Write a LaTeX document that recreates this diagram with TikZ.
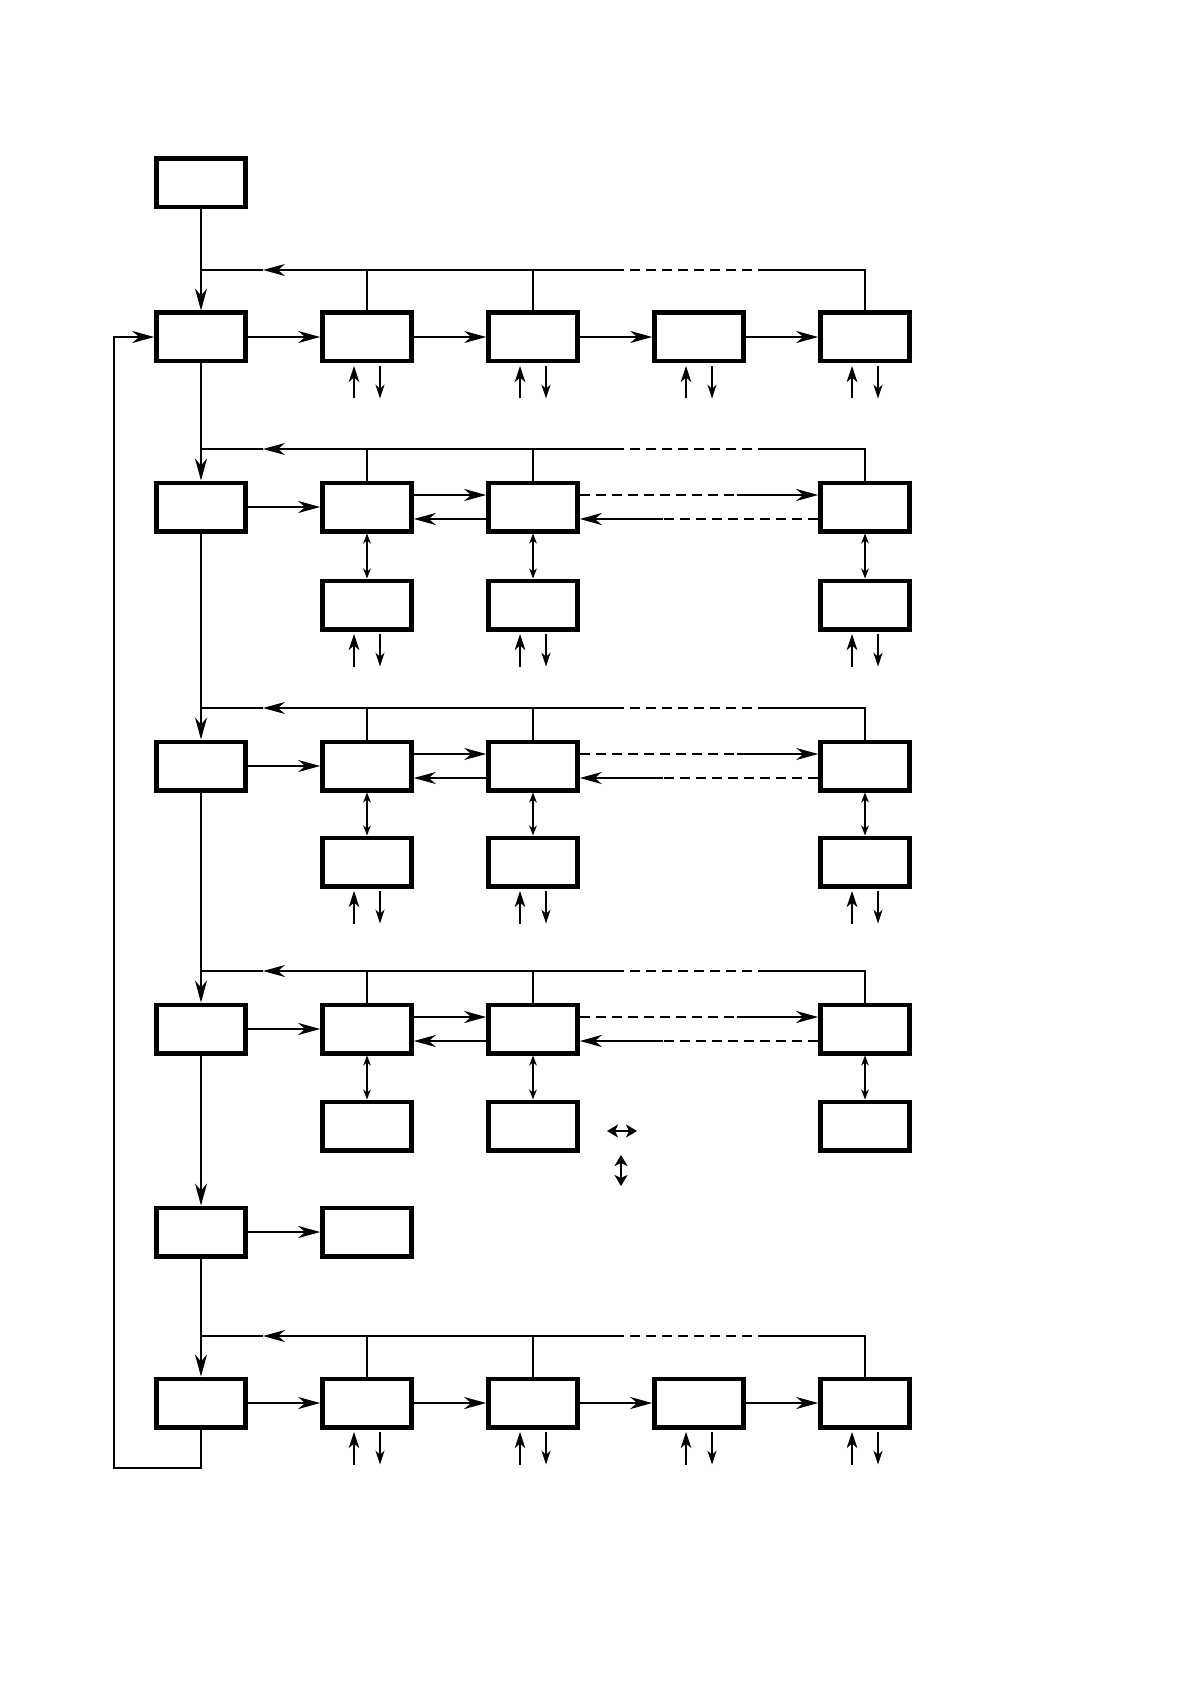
\documentclass[tikz,border=0pt]{standalone}
\usepackage{tikz}
\usetikzlibrary{arrows.meta, math}

\tikzset{
 unit/.style={draw, line width=2.2pt, minimum width=44.6pt, minimum height=24.3pt, inner sep=0pt},
 ln/.style={line width=0.6pt},
 lnb/.style={line width=1.4pt},
 dsh/.style={dash pattern=on 5pt off 3pt},
 twoway/.style={line width=0.6pt, {Stealth[length=5pt,width=3.8pt,inset=1.5pt]}-{Stealth[length=5pt,width=3.8pt,inset=1.5pt]}},
 inarr/.style={line width=1.4pt, -{Stealth[length=8pt,width=5.2pt,inset=2.2pt]}},
 outarr/.style={line width=0.7pt, -{Stealth[length=7pt,width=4.6pt,inset=2.2pt]}},
 keyarr/.style={line width=1.3pt, {Stealth[length=5.5pt,width=6.5pt,inset=1.5pt]}-{Stealth[length=5.5pt,width=6.5pt,inset=1.5pt]}}
}

\begin{document}
\begin{tikzpicture}[x=0.5pt,y=-0.5pt, >={Stealth[length=11pt,width=6pt,inset=3.5pt]}]
\tikzmath{
\colA=201;
\colB=367;
\colC=533;
\colD=699;
\colE=865;
}
\useasboundingbox (0,0) rectangle (1190,1684);

 %boxes:
 \node[unit] (T) at (\colA,183) {};
 \node[unit] (A0) at (\colA,337) {};
 \node[unit] (A1) at (\colB,337) {};
 \node[unit] (A2) at (\colC,337) {};
 \node[unit] (A3) at (\colD,337) {};
 \node[unit] (A4) at (\colE,337) {};
 \foreach \rw/\y/\ys in {B/507/605,C/766/862,D/1029/1126} {
  \node[unit] (\rw0) at (\colA,\y) {};
  \node[unit] (\rw1) at (\colB,\y) {};
  \node[unit] (\rw2) at (\colC,\y) {};
  \node[unit] (\rw4) at (\colE,\y) {};
  \node[unit] (\rw1s) at (\colB,\ys) {};
  \node[unit] (\rw2s) at (\colC,\ys) {};
  \node[unit] (\rw4s) at (\colE,\ys) {};
 }
 \node[unit] (E0) at (\colA,1232) {};
 \node[unit] (E1) at (\colB,1232) {};
 \node[unit] (F0) at (\colA,1403) {};
 \node[unit] (F1) at (\colB,1403) {};
 \node[unit] (F2) at (\colC,1403) {};
 \node[unit] (F3) at (\colD,1403) {};
 \node[unit] (F4) at (\colE,1403) {};

 %main line and loop back:
 \coordinate (loop) at (114,1468);
 \draw[ln,->] (T.south) -- (A0.north);
 \draw[ln,->] (A0.south) -- (B0.north);
 \draw[ln,->] (B0.south) -- (C0.north);
 \draw[ln,->] (C0.south) -- (D0.north);
 \draw[ln,->] (D0.south) -- (E0.north);
 \draw[ln,->] (E0.south) -- (F0.north);
 \draw[ln,->] (F0.south) |- (loop) |- (A0.west);

 %feedback lines:
 \foreach \rw/\fy in {A/270,B/449,C/708,D/971,F/1336} {
  \coordinate (\rw-j) at (\colA,\fy);
  \coordinate (\rw-t) at (263,\fy);
  \coordinate (\rw-ds) at (617,\fy);
  \coordinate (\rw-de) at (768,\fy);
  \draw[ln] (\rw4.north) |- (\rw-de);
  \draw[ln,dsh] (\rw-de) -- (\rw-ds);
  \draw[ln,->] (\rw-ds) -- (\rw-t);
  \draw[ln] (\rw-t) -- (\rw-j);
  \draw[ln] (\rw1.north) -- (\rw1.north |- \rw-j);
  \draw[ln] (\rw2.north) -- (\rw2.north |- \rw-j);
 }

 %straight chains:
 \draw[ln,->] (A0) -- (A1);
 \draw[ln,->] (A1) -- (A2);
 \draw[ln,->] (A2) -- (A3);
 \draw[ln,->] (A3) -- (A4);
 \draw[ln,->] (E0) -- (E1);
 \draw[lnb,->] (F0) -- (F1);
 \draw[lnb,->] (F1) -- (F2);
 \draw[lnb,->] (F2) -- (F3);
 \draw[lnb,->] (F3) -- (F4);

 %two-way chains:
 \foreach \rw/\y/\w in {B/507/1.4pt,C/766/0.7pt,D/1029/1.4pt} {
  \coordinate (\rw-m1) at (737,\y-12);
  \coordinate (\rw-m2) at (663,\y+12);
  \draw[line width=\w,->] (\rw0) -- (\rw1);
  \draw[line width=\w,->] ([yshift=6pt]\rw1.east) -- ([yshift=6pt]\rw2.west);
  \draw[line width=\w,->] ([yshift=-6pt]\rw2.west) -- ([yshift=-6pt]\rw1.east);
  \draw[line width=\w,dsh] ([yshift=6pt]\rw2.east) -- (\rw-m1);
  \draw[line width=\w,->] (\rw-m1) -- ([yshift=6pt]\rw4.west);
  \draw[line width=\w,dsh] ([yshift=-6pt]\rw4.west) -- (\rw-m2);
  \draw[line width=\w,->] (\rw-m2) -- ([yshift=-6pt]\rw2.east);
  \draw[twoway] (\rw1.south) -- (\rw1s.north);
  \draw[twoway] (\rw2.south) -- (\rw2s.north);
  \draw[twoway] (\rw4.south) -- (\rw4s.north);
 }

 %in and out arrows:
 \foreach \n in {A1,A2,A3,A4,B1s,B2s,B4s,C1s,C2s,C4s,F1,F2,F3,F4} {
  \draw[inarr] ([xshift=-6.5pt,yshift=-17.5pt]\n.south) -- ([xshift=-6.5pt,yshift=-1.2pt]\n.south);
  \draw[outarr] ([xshift=6.5pt,yshift=-1.2pt]\n.south) -- ([xshift=6.5pt,yshift=-17.5pt]\n.south);
 }

 %key:
 \coordinate (kh1) at (607,1131);
 \coordinate (kh2) at (637,1131);
 \coordinate (kv1) at (621,1155);
 \coordinate (kv2) at (621,1186);
 \draw[keyarr] (kh1) -- (kh2);
 \draw[keyarr] (kv1) -- (kv2);
\end{tikzpicture}
\end{document}
